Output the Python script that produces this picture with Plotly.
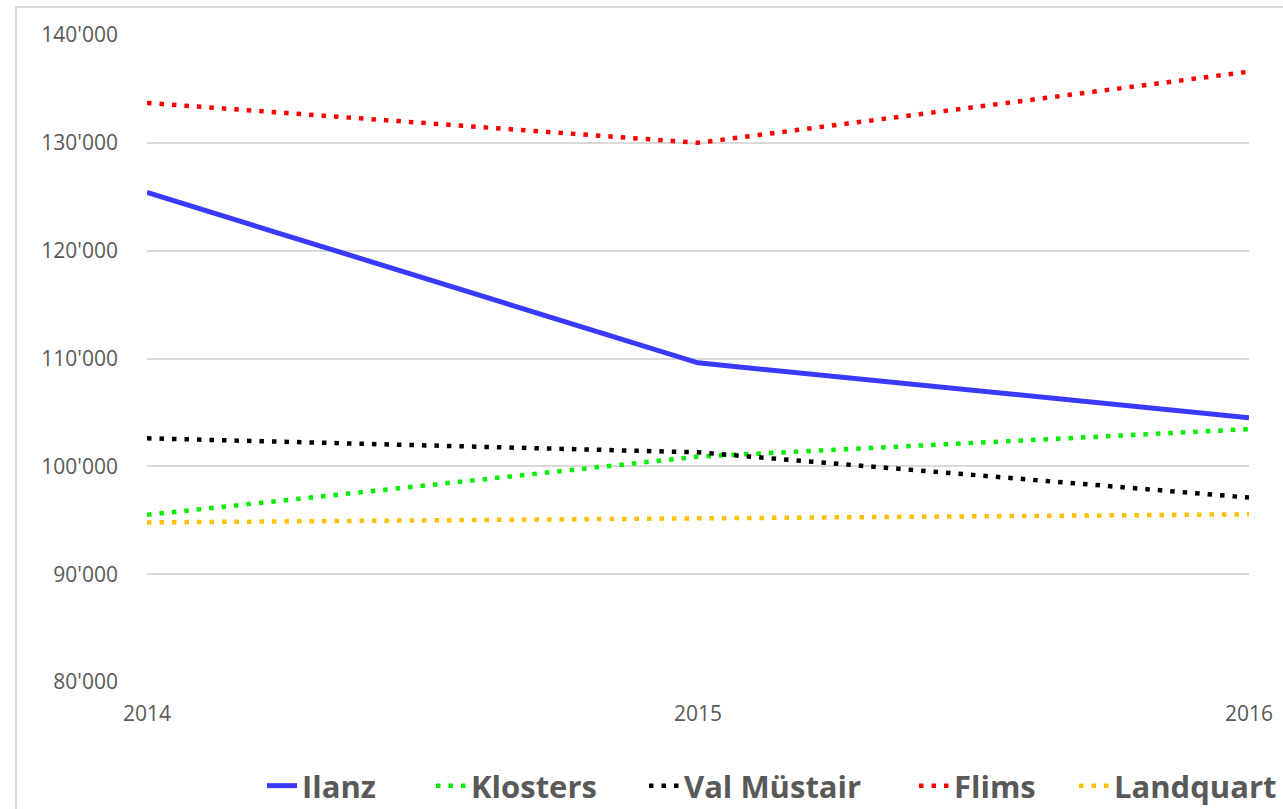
import plotly.graph_objects as go

years = [2014, 2015, 2016]
ilanz = [125400, 109600, 104500]
klosters = [95500, 100900, 103450]
val_mustair = [102600, 101300, 97100]
flims = [133700, 130000, 136600]
landquart = [94800, 95200, 95550]

series = [
    ("Ilanz", ilanz, "#3a3aff", "solid", 5),
    ("Klosters", klosters, "#00ee00", "4.5px,8px", 4.5),
    ("Val Müstair", val_mustair, "#000000", "4.5px,8px", 4.5),
    ("Flims", flims, "#ff0000", "4.5px,8px", 4.5),
    ("Landquart", landquart, "#ffc000", "4.5px,8px", 4.5),
]

L, R, T, B = 147, 34, 35, 127
W, H = 1283, 809
pw = W - L - R
ph = H - T - B

def px_to_paper_x(px):
    return (px - L) / pw

def px_to_paper_y(py):
    return (H - B - py) / ph

# legend item start positions in pixels
legend_x_px = [262, 431, 644, 914, 1074]

FONT = "Open Sans, Lato, sans-serif"

fig = go.Figure()
legend_layouts = {}
for i, (name, vals, color, dash, w) in enumerate(series):
    lg = "legend" if i == 0 else f"legend{i+1}"
    fig.add_trace(go.Scatter(
        x=years, y=vals, name=name, mode="lines",
        line=dict(color=color, dash=dash, width=w),
        legend=lg,
    ))
    legend_layouts[lg] = dict(
        x=px_to_paper_x(legend_x_px[i]), xanchor="left",
        y=px_to_paper_y(786), yanchor="middle",
        orientation="h",
        font=dict(family=FONT, size=31, color="#595959", weight="bold"),
        bgcolor="rgba(0,0,0,0)",
        itemwidth=30,
    )

fig.update_layout(
    width=W, height=H,
    margin=dict(l=L, r=R, t=T, b=B, autoexpand=False),
    paper_bgcolor="white", plot_bgcolor="white",
    separators=".'",
    showlegend=True,
    xaxis=dict(
        range=[2014, 2016], tickvals=years, ticktext=[str(y) for y in years],
        showgrid=False, zeroline=False, showline=False, ticks="",
        tickfont=dict(family=FONT, size=21, color="#595959"),
        ticklabelstandoff=17,
    ),
    yaxis=dict(
        range=[80000, 140000], dtick=10000, tickformat=",",
        showgrid=True, gridcolor="#d9d9d9", gridwidth=1.5,
        zeroline=False, showline=False, ticks="",
        tickfont=dict(family=FONT, size=21, color="#595959"),
        ticklabelstandoff=28,
    ),
    shapes=[dict(
        type="rect", xref="paper", yref="paper",
        x0=px_to_paper_x(16), x1=1.2, y0=-0.5, y1=px_to_paper_y(7),
        line=dict(color="#d9d9d9", width=2), fillcolor="rgba(0,0,0,0)", layer="below",
    )],
    **legend_layouts,
)

fig.write_html("out.html", config={"displayModeBar": False},
               post_script="document.body.style.margin='0px';")
